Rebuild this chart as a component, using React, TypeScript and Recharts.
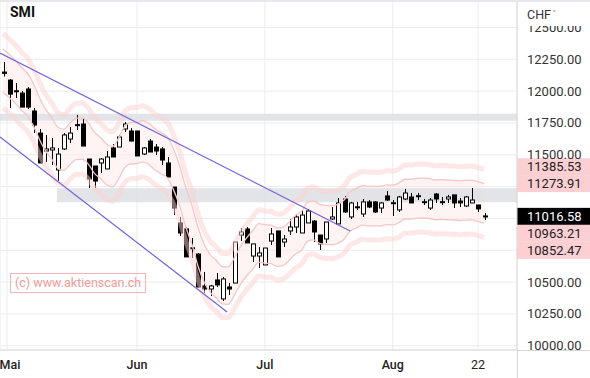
import React from "react";
import {
  ComposedChart,
  Bar,
  Line,
  Area,
  XAxis,
  YAxis,
  CartesianGrid,
  ReferenceArea,
  ReferenceLine,
} from "recharts";

// SMI daily candles, 29.04. - 23.08.
const opens = [
  12150, 12087, 12003, 11985, 12017, 11844, 11671, 11530, 11538, 11381,
  11546, 11624, 11731, 11742, 11467, 11412, 11436, 11389, 11554, 11561,
  11703, 11687, 11687, 11506, 11608, 11561, 11546, 11436, 11247, 10965,
  10918, 10766, 10721, 10470, 10446, 10517, 10368, 10462, 10493, 10870,
  10918, 10705, 10705, 10635, 10823, 10902, 10815, 10902, 10933, 10886,
  10965, 10980, 10870, 10839, 10996, 10957, 11153, 11012, 11088, 11035,
  11130, 11130, 11082, 11177, 11120, 11067, 11153, 11169, 11175, 11128,
  11082, 11192, 11128, 11153, 11185, 11137, 11098, 11122, 11106, 11020,
];
const highs = [
  12229, 12095, 12064, 12001, 12032, 11868, 11703, 11656, 11632, 11554,
  11671, 11718, 11813, 11789, 11467, 11412, 11475, 11530, 11585, 11656,
  11757, 11710, 11687, 11561, 11624, 11585, 11561, 11483, 11247, 11012,
  10933, 10847, 10729, 10580, 10478, 10572, 10541, 10493, 10815, 10925,
  10933, 10800, 10776, 10768, 10925, 10902, 10870, 10996, 11027, 11067,
  11074, 10988, 10870, 10972, 11090, 11161, 11177, 11130, 11130, 11153,
  11145, 11137, 11130, 11216, 11145, 11177, 11232, 11200, 11200, 11153,
  11161, 11200, 11169, 11185, 11185, 11161, 11177, 11239, 11106, 11043,
];
const lows = [
  12115, 11868, 11946, 11875, 11860, 11671, 11436, 11444, 11420, 11294,
  11538, 11593, 11695, 11569, 11239, 11239, 11357, 11389, 11483, 11561,
  11679, 11608, 11491, 11498, 11522, 11498, 11420, 11326, 11027, 10862,
  10698, 10690, 10454, 10415, 10391, 10462, 10352, 10399, 10493, 10823,
  10808, 10658, 10611, 10635, 10792, 10698, 10776, 10870, 10886, 10886,
  10965, 10815, 10753, 10808, 10988, 10957, 11043, 10996, 11067, 11012,
  11082, 11043, 11043, 11137, 11020, 11051, 11145, 11122, 11145, 11106,
  11067, 11122, 11106, 11122, 11082, 11090, 11090, 11122, 11051, 10988,
];
const closes = [
  12140, 11977, 11999, 11875, 11875, 11734, 11436, 11546, 11554, 11506,
  11656, 11671, 11737, 11569, 11310, 11294, 11467, 11483, 11483, 11640,
  11742, 11608, 11491, 11554, 11522, 11530, 11459, 11326, 11082, 10886,
  10698, 10770, 10462, 10446, 10470, 10478, 10525, 10446, 10815, 10894,
  10808, 10800, 10729, 10768, 10878, 10698, 10839, 10933, 11012, 11027,
  11059, 10894, 10800, 10972, 11012, 11122, 11051, 11122, 11092, 11130,
  11090, 11051, 11122, 11145, 11124, 11169, 11200, 11122, 11179, 11132,
  11145, 11153, 11132, 11169, 11122, 11122, 11169, 11145, 11075, 11016.58,
];

// envelope centre line
const bandMid = [
  12160, 12120, 12075, 12020, 11973, 11892, 11784, 11693, 11629, 11555,
  11540, 11587, 11625, 11628, 11589, 11516, 11475, 11425, 11407, 11473,
  11563, 11591, 11593, 11607, 11583, 11541, 11511, 11478, 11384, 11257,
  11090, 10952, 10780, 10652, 10569, 10525, 10476, 10473, 10547, 10632,
  10698, 10753, 10809, 10800, 10797, 10775, 10782, 10823, 10872, 10902,
  10974, 10985, 10958, 10950, 10947, 10960, 10991, 11056, 11080, 11103,
  11097, 11097, 11097, 11108, 11106, 11122, 11152, 11152, 11159, 11160,
  11156, 11146, 11148, 11146, 11144, 11140, 11143, 11145, 11132, 11119,
];
const ENV_INNER = 0.014;
const ENV_OUTER = 0.024;

// x ticks (candle index) + labels
const xTickIdx = [0.65, 22, 43, 64, 78];
const xTickLabels = ["Mai", "Jun", "Jul", "Aug", "22"];
const yTicks = [10000, 10250, 10500, 10750, 11000, 11250, 11500, 11750, 12000, 12250, 12500];
// axis labels hidden behind the price tags
const coveredTicks = [10750, 11000, 11250];

// right side price tags
const tagValues = [11385.53, 11273.91, 11016.58, 10963.21, 10852.47];
const tagKinds = ["band", "band", "last", "band", "band"];
const tagShift = [-2.7, 0, 0, 10.2, 13.1];

// horizontal resistance zones
const zoneLow = [11767, 11128];
const zoneHigh = [11822, 11238];
const zoneStart = [-0.5, 8.85];

// trend channel
const trendUpper = [{ x: -0.5, y: 12300 }, { x: 57, y: 10902 }];
const trendLower = [{ x: -0.5, y: 11640 }, { x: 36.8, y: 10266 }];

const chartData = opens.map((o, i) => ({
  i,
  o,
  h: highs[i],
  l: lows[i],
  c: closes[i],
  range: [lows[i], highs[i]],
  upOuter: bandMid[i] * (1 + ENV_OUTER),
  upInner: bandMid[i] * (1 + ENV_INNER),
  loInner: bandMid[i] * (1 - ENV_INNER),
  loOuter: bandMid[i] * (1 - ENV_OUTER),
  inner: [bandMid[i] * (1 - ENV_INNER), bandMid[i] * (1 + ENV_INNER)],
}));

const FONT = "Roboto, 'Noto Sans', sans-serif";

function Candle(props: any) {
  const { x, y, width, height, payload } = props;
  if (x == null || y == null) return null;
  const top = Math.min(y, y + height);
  const hh = Math.abs(height);
  const { o, h, l, c } = payload;
  const py = (v: number) => (h === l ? top : top + ((h - v) / (h - l)) * hh);
  const cx = Math.round(x + width / 2) + 0.5;
  const yo = py(o);
  const yc = py(c);
  const up = c >= o;
  const bTop = Math.min(yo, yc);
  const bH = Math.max(Math.abs(yo - yc), 1);
  return (
    <g>
      <line x1={cx} x2={cx} y1={top} y2={top + hh} stroke="#000" strokeWidth={1} />
      <rect
        x={cx - 2}
        y={bTop}
        width={4}
        height={bH}
        fill={up ? "#fff" : "#000"}
        stroke="#000"
        strokeWidth={1}
      />
    </g>
  );
}

function XTick(props: any) {
  const { x, y, payload } = props;
  const k = xTickIdx.indexOf(payload.value);
  const label = xTickLabels[k] ?? "";
  return (
    <text
      x={k === 0 ? x + 3 : x}
      y={y + 18.5}
      textAnchor="middle"
      fontSize={12.5}
      fontFamily={FONT}
      fontWeight={label === "22" ? 400 : 500}
      fill="#222"
    >
      {label}
    </text>
  );
}

function YTick(props: any) {
  const { x, y, payload } = props;
  if (coveredTicks.includes(payload.value)) return null;
  return (
    <text x={x} y={y + 4.5} textAnchor="start" fontSize={13} fontFamily={FONT} fill="#333">
      {Number(payload.value).toFixed(2)}
    </text>
  );
}

function PriceTag(props: any) {
  const { viewBox, value, kind, shift } = props;
  if (!viewBox) return null;
  const left = viewBox.x + viewBox.width;
  const cy = viewBox.y + shift;
  const last = kind === "last";
  return (
    <g>
      <rect x={left} y={cy - 8.5} width={73} height={17} fill={last ? "#000" : "#fcd0d3"} />
      <text
        x={left + 10}
        y={cy + 4.5}
        fontSize={13}
        fontFamily={FONT}
        fill={last ? "#fff" : "#222"}
      >
        {value.toFixed(2)}
      </text>
    </g>
  );
}

export default function App() {
  return (
    <div style={{ position: "absolute", left: 0, top: 0, width: 590, height: 378, background: "#fff" }}>
      <ComposedChart
        width={590}
        height={378}
        data={chartData}
        margin={{ top: 0, right: 0, bottom: 0, left: 0 }}
      >
        <CartesianGrid stroke="#ececec" />
        <XAxis
          dataKey="i"
          type="number"
          domain={[-0.5, 84.4]}
          ticks={xTickIdx}
          allowDataOverflow
          height={28}
          axisLine={{ stroke: "#d9d9d9" }}
          tickLine={false}
          tickSize={0}
          tickMargin={0}
          tick={<XTick />}
          interval={0}
        />
        <YAxis
          orientation="right"
          domain={[9967, 12716]}
          ticks={yTicks}
          allowDataOverflow
          width={73}
          axisLine={{ stroke: "#d9d9d9" }}
          tickLine={false}
          tickSize={0}
          tickMargin={10}
          tick={<YTick />}
          interval={0}
        />

        {/* envelope */}
        <Area
          dataKey="inner"
          type="monotone"
          stroke="none"
          fill="#fde9e9"
          fillOpacity={0.5}
          isAnimationActive={false}
        />
        <Line dataKey="upOuter" type="monotone" stroke="#fbcfcf" strokeWidth={5} strokeOpacity={0.5} dot={false} isAnimationActive={false} />
        <Line dataKey="loOuter" type="monotone" stroke="#fbcfcf" strokeWidth={5} strokeOpacity={0.5} dot={false} isAnimationActive={false} />
        <Line dataKey="upInner" type="monotone" stroke="#f8c6c6" strokeWidth={1.3} dot={false} isAnimationActive={false} />
        <Line dataKey="loInner" type="monotone" stroke="#f8c6c6" strokeWidth={1.3} dot={false} isAnimationActive={false} />

        {zoneLow.map((lo, k) => (
          <ReferenceArea
            key={"z" + k}
            x1={zoneStart[k]}
            x2={84.4}
            y1={lo}
            y2={zoneHigh[k]}
            fill="#dcdde2"
            fillOpacity={0.8}
            stroke="none"
            ifOverflow="hidden"
          />
        ))}

        <ReferenceLine segment={trendUpper} stroke="#7262dc" strokeWidth={1.2} ifOverflow="visible" />
        <ReferenceLine segment={trendLower} stroke="#7262dc" strokeWidth={1.2} ifOverflow="visible" />

        <Bar dataKey="range" barSize={5} shape={(p: any) => <Candle {...p} />} isAnimationActive={false} />

        {tagValues.map((v, k) => (
          <ReferenceLine
            key={"t" + k}
            y={v}
            stroke="none"
            strokeOpacity={0}
            ifOverflow="visible"
            label={<PriceTag value={v} kind={tagKinds[k]} shift={tagShift[k]} />}
          />
        ))}
      </ComposedChart>

      {/* clip the outermost axis labels like the original */}
      <div style={{ position: "absolute", left: 518, top: 0, width: 72, height: 26, background: "#fff" }} />
      <div style={{ position: "absolute", left: 518, top: 351, width: 72, height: 27, background: "#fff" }} />
      <div style={{ position: "absolute", left: 517, top: 350, width: 73, height: 1, background: "#d9d9d9" }} />
      <div style={{ position: "absolute", left: 517, top: 350, width: 1, height: 28, background: "#d9d9d9" }} />
      <div style={{ position: "absolute", left: 0, top: 0, width: 590, height: 2, background: "#e7e7ec" }} />

      <div
        style={{
          position: "absolute",
          left: 10,
          top: 4,
          fontFamily: FONT,
          fontSize: 14,
          fontWeight: 700,
          color: "#111",
        }}
      >
        SMI
      </div>
      <div
        style={{
          position: "absolute",
          left: 527,
          top: 7,
          fontFamily: FONT,
          fontSize: 12.5,
          color: "#333",
        }}
      >
        CHF<span style={{ fontSize: 9, marginLeft: 2, position: "relative", top: -2 }}>˅</span>
      </div>
      <div
        style={{
          position: "absolute",
          left: 10,
          top: 273,
          padding: "1px 4px",
          border: "1px solid #f6b5b5",
          fontFamily: FONT,
          fontSize: 12.5,
          lineHeight: "16px",
          color: "#f29c9c",
        }}
      >
        (c) www.aktienscan.ch
      </div>
    </div>
  );
}
